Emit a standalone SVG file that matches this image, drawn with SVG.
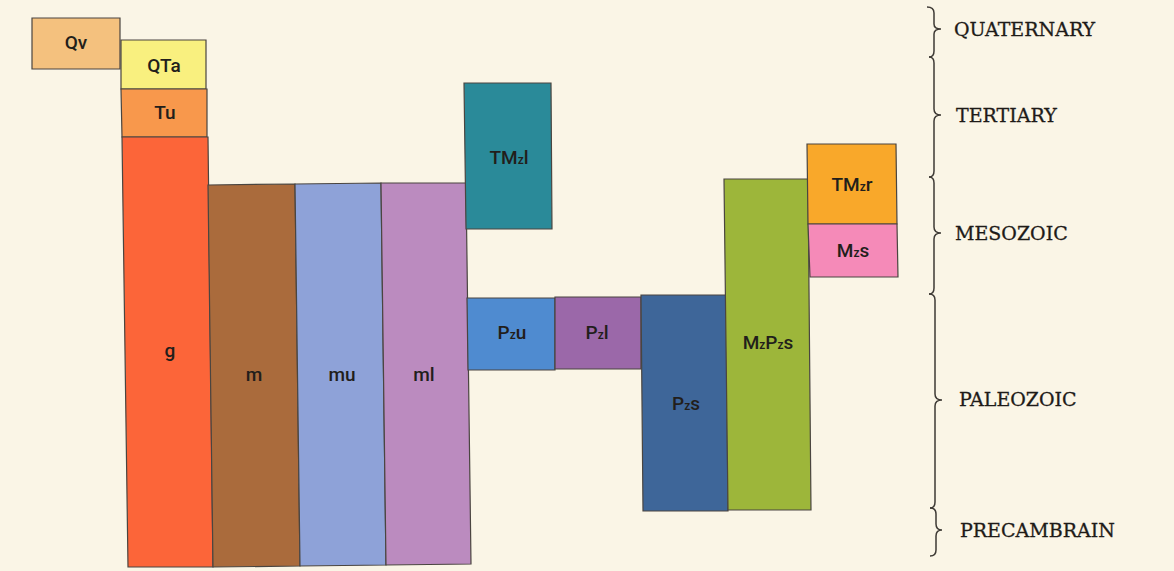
<svg xmlns="http://www.w3.org/2000/svg" width="1174" height="571" viewBox="0 0 1174 571">
<style>
.u{stroke:#4a4540;stroke-width:1.2;stroke-linejoin:miter}
.t{font-family:Roboto,"Liberation Sans",Arial,sans-serif;font-weight:500;font-size:19px;fill:#221e1b;text-anchor:middle}
.s{font-size:12px}
.e{font-family:"DejaVu Serif","Liberation Serif",serif;font-size:19px;fill:#1e1b18;stroke:#1e1b18;stroke-width:0.3}
.b{fill:none;stroke:#3e3a35;stroke-width:1.5}
</style>
<rect width="1174" height="571" fill="#faf5e6"/>
<g id="Qv"><polygon class="u" points="32,18 120,18 120,69 32,69" fill="#f4c17e"/><text class="t" x="76" y="49">Qv</text></g>
<g id="QTa"><polygon class="u" points="121,40 206,40 206,89 121,89" fill="#f9f07f"/><text class="t" x="164" y="72">QTa</text></g>
<g id="Tu"><polygon class="u" points="121,89 207,89 207,137 122,137" fill="#f8984c"/><text class="t" x="165" y="119">Tu</text></g>
<g id="g"><polygon class="u" points="122,137 208,137 213,567 128,567" fill="#fc6539"/><text class="t" x="170" y="357">g</text></g>
<g id="m"><polygon class="u" points="208,185 295,184 300,566 213,567" fill="#aa6b3c"/><text class="t" x="254" y="381">m</text></g>
<g id="mu"><polygon class="u" points="295,184 381,183 386,565 300,566" fill="#8ea2d8"/><text class="t" x="342" y="381">mu</text></g>
<g id="ml"><polygon class="u" points="381,183 466,183 471,564 386,565" fill="#bb8bbf"/><text class="t" x="424" y="381">ml</text></g>
<g id="TMzl"><polygon class="u" points="464,83 551,83 552,229 466,229" fill="#2a8a99"/><text class="t" x="509" y="164">TM<tspan class="s">z</tspan>l</text></g>
<g id="Pzu"><polygon class="u" points="467,298 555,298 555,370 468,370" fill="#4f8bd0"/><text class="t" x="512" y="339">P<tspan class="s">z</tspan>u</text></g>
<g id="Pzl"><polygon class="u" points="555,297 641,297 641,369 555,369" fill="#9b68a9"/><text class="t" x="597" y="339">P<tspan class="s">z</tspan>l</text></g>
<g id="Pzs"><polygon class="u" points="641,295 726,295 728,511 643,511" fill="#3e6699"/><text class="t" x="686" y="410">P<tspan class="s">z</tspan>s</text></g>
<g id="MzPzs"><polygon class="u" points="724,179 808,179 811,510 728,510" fill="#9db63a"/><text class="t" x="768" y="349">M<tspan class="s">z</tspan>P<tspan class="s">z</tspan>s</text></g>
<g id="TMzr"><polygon class="u" points="807,144 896,144 897,224 808,224" fill="#f9a82a"/><text class="t" x="852" y="191">TM<tspan class="s">z</tspan>r</text></g>
<g id="Mzs"><polygon class="u" points="808,224 897,224 898,277 810,277" fill="#f58ab8"/><text class="t" x="853" y="257">M<tspan class="s">z</tspan>s</text></g>
<g id="braces">
<path class="b" d="M927 7 Q934 7 934 13 L934 24 Q934 29 941 29 Q934 29 934 34 L934 51 Q934 57 929 57"/>
<path class="b" d="M929 57 Q934 57 934 63 L934 109 Q934 115 941 115 Q934 115 934 121 L934 171 Q934 177 929 177"/>
<path class="b" d="M929 177 Q934 177 934 183 L934 227 Q934 233 941 233 Q934 233 934 239 L934 288 Q934 294 929 294"/>
<path class="b" d="M929 294 Q935 294 935 300 L935 394 Q935 400 942 400 Q935 400 935 406 L935 502 Q935 508 930 508"/>
<path class="b" d="M930 508 Q936 508 936 514 L936 524 Q936 530 942 530 Q936 530 936 536 L936 550 Q936 556 930 556"/>
</g>
<g id="eras">
<text class="e" x="954" y="36">QUATERNARY</text>
<text class="e" x="956" y="122">TERTIARY</text>
<text class="e" x="955" y="240">MESOZOIC</text>
<text class="e" x="959" y="406">PALEOZOIC</text>
<text class="e" x="960" y="537">PRECAMBRAIN</text>
</g>
</svg>
